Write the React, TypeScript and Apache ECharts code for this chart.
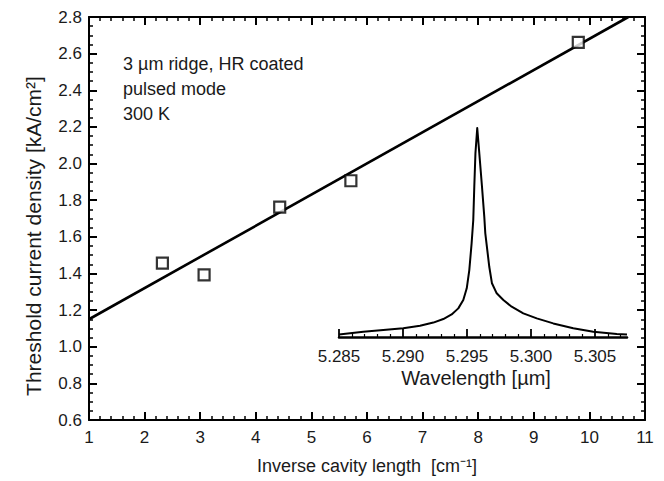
import React, { useEffect, useRef } from 'react';
import * as echarts from 'echarts';

// Main plot data
const cavityX = [2.32, 3.07, 4.43, 5.71, 9.8];
const thresholdJ = [1.456, 1.392, 1.762, 1.906, 2.662];
const fitX = [1, 10.7];
const fitY = [1.15, 2.8];

// Inset spectrum data (wavelength in µm, normalized intensity)
const wavelength = [
  5.285, 5.2869, 5.28846, 5.29002, 5.29133, 5.29237, 5.29315, 5.2938, 5.29432,
  5.29471, 5.29498, 5.29518, 5.29536, 5.29549, 5.29557, 5.29566, 5.2958,
  5.29596, 5.29617, 5.29635, 5.29643, 5.29674, 5.29695, 5.29732, 5.29784,
  5.29849, 5.2994, 5.30045, 5.30174, 5.3033, 5.30487, 5.3067, 5.3075,
];
const intensity = [
  0.012, 0.025, 0.033, 0.042, 0.054, 0.069, 0.086, 0.108, 0.137,
  0.177, 0.233, 0.32, 0.448, 0.56, 0.72, 0.88, 1.0,
  0.88, 0.72, 0.576, 0.496, 0.336, 0.257, 0.209, 0.177,
  0.145, 0.113, 0.089, 0.065, 0.042, 0.025, 0.014, 0.012,
];
const insetMajorTicks = [5.285, 5.29, 5.295, 5.3, 5.305];
const insetMinorTicks = [
  5.286, 5.287, 5.288, 5.289, 5.291, 5.292, 5.293, 5.294, 5.296, 5.297,
  5.298, 5.299, 5.301, 5.302, 5.303, 5.304, 5.306, 5.307,
];
const annotationLines = ['3 \u00b5m ridge, HR coated', 'pulsed mode', '300 K'];
const yTitle = 'Threshold current density [kA/cm\u00b2]';
const xTitle = 'Inverse cavity length  [cm\u207b\u00b9]';
const insetTitle = 'Wavelength [\u00b5m]';

const FONT = 'Liberation Sans, Arial, sans-serif';
const TXT = '#1a1a1a';

export default function App() {
  const ref = useRef<HTMLDivElement>(null);
  useEffect(() => {
    if (!ref.current) return;
    const chart = echarts.init(ref.current, undefined, { renderer: 'svg' });
    const axisLine = { show: true, onZero: false, lineStyle: { color: '#000', width: 2 } };
    const majorTick = { show: true, inside: true, length: 8, lineStyle: { color: '#000', width: 2 } };
    const mainX = {
      type: 'value', gridIndex: 0, min: 1, max: 11, interval: 1,
      axisLine, splitLine: { show: false },
      axisTick: majorTick,
      minorTick: { show: true, splitNumber: 5, length: 4, lineStyle: { color: '#000', width: 1.5 } },
      minorSplitLine: { show: false },
    };
    const mainY = {
      type: 'value', gridIndex: 0, min: 0.6, max: 2.8, interval: 0.2,
      axisLine, splitLine: { show: false },
      axisTick: majorTick,
      minorTick: { show: true, splitNumber: 4, length: 4, lineStyle: { color: '#000', width: 1.5 } },
      minorSplitLine: { show: false },
    };
    chart.setOption({
      animation: false,
      backgroundColor: '#fff',
      grid: [
        { left: 89, right: 19, top: 17, bottom: 61, outerBoundsMode: 'none', containLabel: false },
        { left: 339, right: 37, top: 128, bottom: 144, outerBoundsMode: 'none', containLabel: false },
      ],
      xAxis: [
        {
          ...mainX, position: 'bottom',
          axisLabel: { color: TXT, fontSize: 17, fontFamily: FONT, margin: 9 },
          name: xTitle, nameLocation: 'middle', nameGap: 37,
          nameTextStyle: { color: TXT, fontSize: 18, fontFamily: FONT },
        },
        { ...mainX, position: 'top', axisLabel: { show: false } },
        {
          type: 'value', gridIndex: 1, min: 5.285, max: 5.3075, position: 'bottom',
          axisLine: { show: true, onZero: false, lineStyle: { color: '#000', width: 2.5 } },
          splitLine: { show: false },
          axisTick: { show: true, inside: true, length: 8, customValues: insetMajorTicks, lineStyle: { color: '#000', width: 1.8 } },
          axisLabel: {
            color: TXT, fontSize: 17, fontFamily: FONT, margin: 11, customValues: insetMajorTicks,
            formatter: (v: number) => v.toFixed(3),
          },
        },
        {
          type: 'value', gridIndex: 1, min: 5.285, max: 5.3075, position: 'bottom',
          axisLine: { show: false }, splitLine: { show: false },
          axisTick: { show: true, inside: true, length: 3, customValues: insetMinorTicks, lineStyle: { color: '#000', width: 1.2 } },
          axisLabel: { show: false },
        },
      ],
      yAxis: [
        {
          ...mainY, position: 'left',
          axisLabel: { color: TXT, fontSize: 17, fontFamily: FONT, margin: 7, formatter: (v: number) => v.toFixed(1) },
        },
        { ...mainY, position: 'right', axisLabel: { show: false } },
        { type: 'value', gridIndex: 1, min: 0, max: 1, show: false },
      ],
      graphic: [
        ...annotationLines.map((t, i) => ({
          type: 'text', x: 123, y: 64 + i * 25,
          style: { text: t, fill: TXT, font: `18px ${FONT}`, align: 'left', verticalAlign: 'middle' },
        })),
        {
          type: 'text', x: 33, y: 236, rotation: Math.PI / 2,
          style: { text: yTitle, fill: TXT, font: `21px ${FONT}`, align: 'center', verticalAlign: 'middle' },
        },
        {
          type: 'text', x: 476, y: 378,
          style: { text: insetTitle, fill: TXT, font: `20px ${FONT}`, align: 'center', verticalAlign: 'middle' },
        },
      ],
      series: [
        {
          type: 'line', xAxisIndex: 0, yAxisIndex: 0,
          data: fitX.map((x, i) => [x, fitY[i]]),
          showSymbol: false, symbol: 'none',
          lineStyle: { color: '#000', width: 2.6 }, z: 2,
        },
        {
          type: 'scatter', xAxisIndex: 0, yAxisIndex: 0,
          data: cavityX.map((x, i) => [x, thresholdJ[i]]),
          symbol: 'rect', symbolSize: 11,
          itemStyle: { color: '#fff', borderColor: '#000', borderWidth: 2.2 }, z: 3,
        },
        {
          type: 'line', xAxisIndex: 2, yAxisIndex: 2,
          data: wavelength.map((x, i) => [x, intensity[i]]),
          showSymbol: false, symbol: 'none',
          lineStyle: { color: '#000', width: 2, join: 'round' }, z: 2,
        },
      ],
    });
    return () => chart.dispose();
  }, []);
  return (
    <div
      ref={ref}
      style={{ position: 'fixed', left: 0, top: 0, width: 664, height: 481, background: '#fff' }}
    />
  );
}
